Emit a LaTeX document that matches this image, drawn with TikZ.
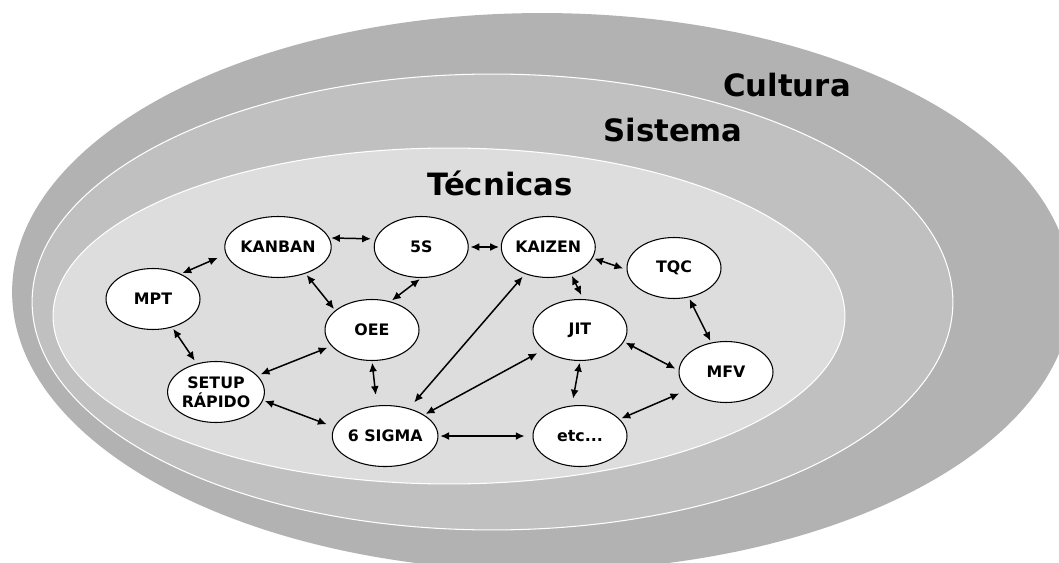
\documentclass[tikz,border=0pt]{standalone}
\usepackage{fontspec}
\setmainfont{DejaVu Sans}
\usepackage{tikz}
\usetikzlibrary{shapes.geometric,arrows.meta}
\usetikzlibrary{positioning}
\definecolor{cultura}{RGB}{178,178,178}
\definecolor{sistema}{RGB}{192,192,192}
\definecolor{tecnicas}{RGB}{221,221,221}
\tikzset{
    tecnica/.style={ellipse,draw=black,fill=white,text centered,minimum width=1.88cm,minimum height=1.22cm,inner sep=0pt,line width=0.6pt,font=\bfseries\fontsize{9}{11}\selectfont},
    camada/.style={draw=white,line width=0.6pt},
    titulo/.style={font=\bfseries\fontsize{17.5}{20}\selectfont},
    liga/.style={<->,line width=0.85pt,shorten <=1pt,shorten >=1pt},
}

\begin{document}
\begin{tikzpicture}[>={Latex[length=5pt,width=4.5pt]},x=0.02cm,y=0.02cm]
\useasboundingbox (0,0) rectangle (1059,562);
% camadas
\fill[cultura] (542,270) ellipse [x radius=10.6cm,y radius=5.58cm];
\filldraw[camada,fill=sistema] (492.5,260) ellipse [x radius=9.21cm,y radius=4.56cm];
\filldraw[camada,fill=tecnicas] (449,246) ellipse [x radius=7.92cm,y radius=3.36cm];
\node[titulo] (cultura) at (787,477) {Cultura};
\node[titulo] (sistema) at (673,432) {Sistema};
\node[titulo] (tecnicas) at (500,379) {Técnicas};
% tecnicas
\node[tecnica] (kanban) at (278,315) {KANBAN};
\node[tecnica] (cinco) [right=0.84cm of kanban] {5S};
\node[tecnica] (kaizen) [right=0.64cm of cinco] {KAIZEN};
\node[tecnica] (tqc) at (674,294) {TQC};
\node[tecnica] (mpt) at (153,263) {MPT};
\node[tecnica] (oee) at (372,232) {OEE};
\node[tecnica] (jit) at (580,232) {JIT};
\node[tecnica] (mfv) at (726,190) {MFV};
\node[tecnica,align=center] (setup) at (216,170) {SETUP\\RÁPIDO};
\node[tecnica] (etc) [below=0.88cm of jit] {etc...};
\node[tecnica] (sigma) [left=1.88cm of etc] {6 SIGMA};
% ligacoes
\draw[liga,shorten >=5pt] (mpt.42) -- (kanban.188);
\draw[liga,shorten >=2.5pt] (kanban.10) -- (cinco.170);
\draw[liga] (cinco) -- (kaizen);
\draw[liga] (kanban.-44) -- (oee.152);
\draw[liga] (cinco.-90) -- (oee.57);
\draw[liga,shorten >=2pt] (kaizen.-14) -- (tqc.182);
\draw[liga,shorten >=2.5pt] (kaizen.-50) -- (jit.84);
\draw[liga] (tqc) -- (mfv);
\draw[liga,shorten >=2pt] (mpt) -- (setup);
\draw[liga,shorten <=2pt,shorten >=2.5pt] (setup) -- (oee);
\draw[liga,shorten >=6pt] (oee.-90) -- (sigma.105);
\draw[liga,shorten <=2pt,shorten >=4.5pt] (kaizen) -- (sigma);
\draw[liga,shorten <=4pt] (jit) -- (sigma);
\draw[liga,shorten >=4.5pt] (setup.-10) -- (sigma.170);
\draw[liga,shorten >=4.5pt] (sigma) -- (etc);
\draw[liga,shorten >=2pt] (jit.-15) -- (mfv.178);
\draw[liga,shorten >=4pt] (jit.-90) -- (etc.105);
\draw[liga,shorten <=5pt] (mfv.205) -- (etc.23);
\end{tikzpicture}
\end{document}
